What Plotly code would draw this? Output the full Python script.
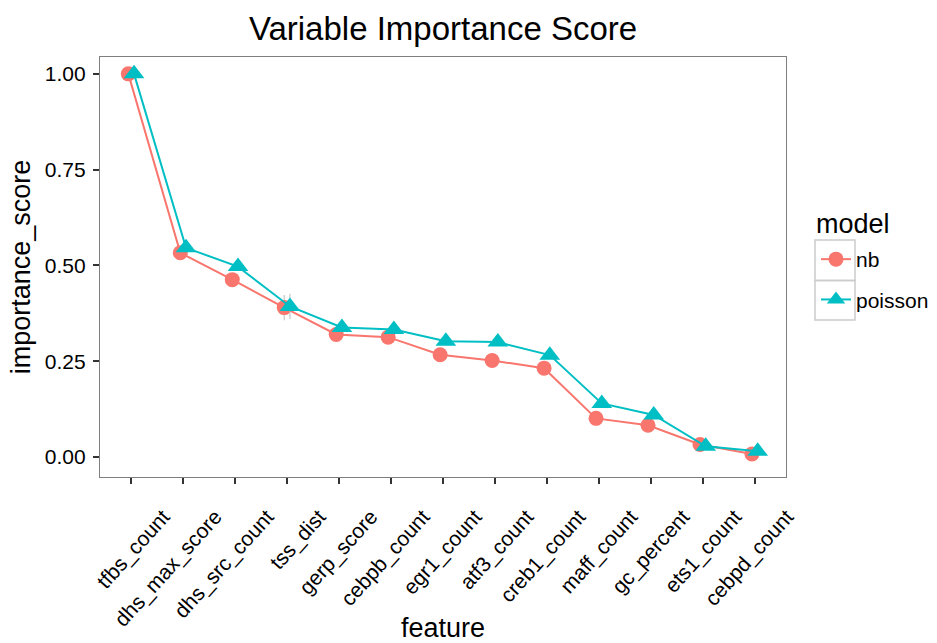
import plotly.graph_objects as go

features = ["tfbs_count", "dhs_max_score", "dhs_src_count", "tss_dist", "gerp_score",
            "cebpb_count", "egr1_count", "atf3_count", "creb1_count", "maff_count",
            "gc_percent", "ets1_count", "cebpd_count"]
nb = [1.00, 0.533, 0.463, 0.390, 0.320, 0.313, 0.267, 0.252, 0.232, 0.101, 0.083, 0.033, 0.008]
poisson = [1.00, 0.546, 0.497, 0.393, 0.338, 0.333, 0.302, 0.300, 0.266, 0.140, 0.110, 0.028, 0.015]
nb_err = [0, 0, 0, 0.033, 0, 0, 0, 0, 0, 0, 0, 0, 0]
poisson_err = [0, 0, 0, 0.033, 0, 0, 0, 0, 0, 0, 0, 0, 0]
y_ticks = [0.0, 0.25, 0.5, 0.75, 1.0]
y_ticklabels = ["0.00", "0.25", "0.50", "0.75", "1.00"]

dodge = 0.055
idx = list(range(len(features)))
FONT = "Liberation Sans, Arial, Helvetica, sans-serif"

fig = go.Figure()
fig.add_trace(go.Scatter(
    x=[i - dodge for i in idx], y=nb, name="nb", mode="lines+markers", legendgroup="nb",
    line=dict(color="#F8766D", width=2),
    marker=dict(symbol="circle", size=15, color="#F8766D"),
    error_y=dict(type="data", array=nb_err, color="#BBBBBB", thickness=1, width=0),
))
fig.add_trace(go.Scatter(
    x=[i + dodge for i in idx], y=poisson, name="poisson", mode="lines+markers", legendgroup="poisson",
    line=dict(color="#00BFC4", width=2),
    marker=dict(symbol="triangle-up", size=18, color="#00BFC4"),
    error_y=dict(type="data", array=poisson_err, color="#BBBBBB", thickness=1, width=0),
))

# legend key boxes (ggplot-style)
L, R, T, B = 100, 786, 57, 477
def px(x):
    return (x - L) / (R - L)
def py(y):
    return (B - y) / (B - T)
for top, bot in [(240, 280.5), (280.5, 320)]:
    fig.add_shape(type="rect", xref="paper", yref="paper",
                  x0=px(815), x1=px(855), y0=py(bot), y1=py(top),
                  line=dict(color="#CCCCCC", width=1.5), fillcolor="rgba(0,0,0,0)", layer="below")
fig.add_annotation(text="model", xref="paper", yref="paper", x=px(814), y=py(224),
                   xanchor="left", yanchor="middle", showarrow=False,
                   font=dict(size=27, color="black"))

fig.update_layout(
    width=937, height=643,
    margin=dict(l=L, r=937 - R, t=T, b=643 - B, autoexpand=False),
    paper_bgcolor="white", plot_bgcolor="white",
    font=dict(family=FONT, color="black"),
    title=dict(text="Variable Importance Score", x=0.5, xanchor="center",
               xref="paper", y=1 - 28 / 643, yanchor="middle",
               font=dict(size=33, color="black")),
    legend=dict(font=dict(size=21), x=px(816), xanchor="left", y=py(239), yanchor="top",
                tracegroupgap=10, itemwidth=30, bgcolor="rgba(0,0,0,0)"),
)
fig.update_xaxes(
    range=[-0.6, len(features) - 0.4], tickmode="array", tickvals=idx, ticktext=features,
    tickangle=-48, tickfont=dict(size=21, color="black"),
    ticks="outside", ticklen=6, tickcolor="#333333", tickwidth=1.5,
    ticklabelshift=32, ticklabelstandoff=12,
    showgrid=False, zeroline=False, showline=True, linecolor="#7F7F7F", linewidth=1.3, mirror=True,
    title=dict(text="feature", font=dict(size=27), standoff=10),
    automargin=False,
)
fig.update_yaxes(
    range=[-0.052, 1.044], tickmode="array", tickvals=y_ticks, ticktext=y_ticklabels,
    tickfont=dict(size=21, color="black"),
    ticks="outside", ticklen=6, tickcolor="#333333", tickwidth=1.5,
    ticklabelstandoff=3,
    showgrid=False, zeroline=False, showline=True, linecolor="#7F7F7F", linewidth=1.3, mirror=True,
    title=dict(text="importance_score", font=dict(size=27), standoff=6),
    automargin=False,
)
fig.write_html("out.html")
